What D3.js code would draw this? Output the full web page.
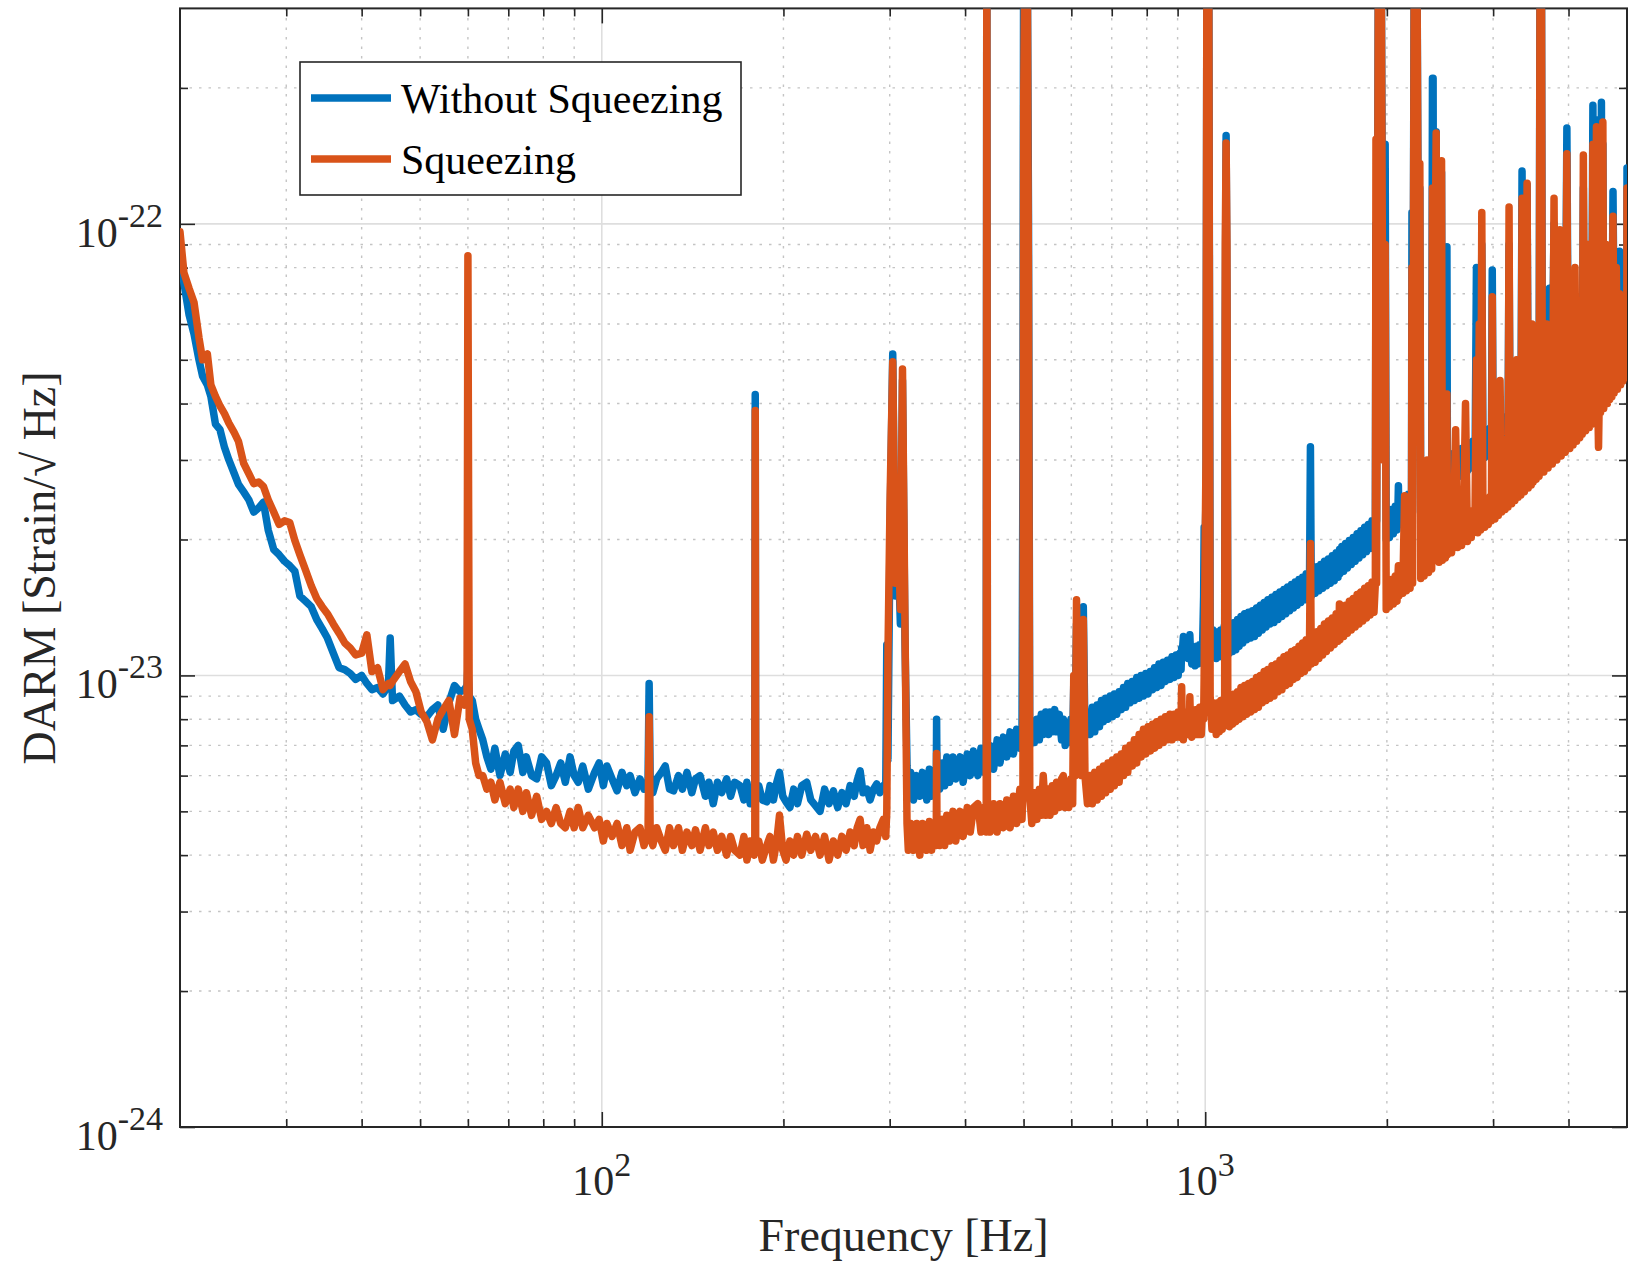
<!DOCTYPE html>
<html lang="en">
<head>
<meta charset="UTF-8">
<title>DARM spectrum</title>
<script src="https://cdn.jsdelivr.net/npm/d3@7"></script>
<style>
body { margin: 0; background: #fff; }
svg text { font-family: "Liberation Serif", "Times New Roman", serif; }
</style>
</head>
<body>
<svg id="chart" width="1641" height="1262"></svg>
<script>
// values are in units of 1e-23 strain/sqrt(Hz), 60 = line runs off the top
const UNIT = 1e-23;

const seriesNames = ["Without Squeezing", "Squeezing"];

const withoutSqueezing = [
  // 20 - 63 Hz
  [20,9.1],[20.3,7.4],[20.7,6.3],[21.1,5.7],[21.5,5.0],[21.8,4.6],[22.2,4.4],[22.5,4.15],[22.9,3.6],[23.3,3.5],
  [23.7,3.2],[24.1,3.0],[24.6,2.8],[25,2.65],[25.5,2.55],[26,2.45],[26.5,2.3],[27,2.35],[27.5,2.42],[28,2.1],
  [28.6,1.9],[29.2,1.85],[29.8,1.79],[30.4,1.75],[31,1.7],[31.6,1.5],[32.3,1.46],[33,1.42],[33.7,1.33],[34.4,1.27],
  [35.1,1.21],[35.9,1.12],[36.7,1.04],[37.5,1.03],[38.3,1.01],[39.1,0.98],[40,1.0],[40.8,0.96],[41.6,0.93],[42.5,0.94],
  [43.4,0.91],[44.3,0.95],[44.6,1.21],[45,0.88],[46.2,0.9],[47.2,0.86],[48.2,0.83],[49.2,0.84],[50.2,0.82],[51.3,0.81],
  [52.4,0.84],[53.5,0.86],[54.6,0.76],[55.8,0.87],[57,0.95],[58.2,0.92],[59.2,0.93],[59.8,0.95],[60,1.05],[60.3,0.9],
  [61,0.88],[61.8,0.8],[62.6,0.76],
  // 63 - 296 Hz
  [63.5,0.72],[64.5,0.66],[65.5,0.62],[66.5,0.69],[67.8,0.6],[69.2,0.67],[70.5,0.61],[71.5,0.68],[72.7,0.7],[74,0.61],
  [75,0.66],[76.5,0.6],[78,0.59],[79.5,0.66],[81,0.64],[82.5,0.57],[84,0.6],[85.5,0.64],[87,0.58],[88.6,0.66],
  [90,0.6],[91.4,0.58],[93,0.63],[95,0.56],[97.3,0.61],[99,0.64],[100.6,0.57],[102,0.63],[104,0.59],[106,0.555],
  [108,0.61],[110,0.57],[111.4,0.6],[113.5,0.55],[115.7,0.59],[117.5,0.56],[119.3,0.58],[119.8,0.96],[120.3,0.58],[121.5,0.55],
  [123.3,0.59],[125.5,0.61],[127.4,0.63],[129.5,0.56],[131.5,0.555],[134,0.6],[136,0.56],[138.4,0.61],[141,0.55],[143,0.59],
  [145.5,0.6],[148.5,0.54],[150.5,0.58],[153,0.52],[155.5,0.58],[158,0.55],[161,0.59],[163.5,0.54],[166,0.58],[169.5,0.57],
  [172,0.53],[174,0.58],[176.2,0.52],[178.8,0.56],[179.3,0.55],[179.6,4.19],[179.9,0.55],[182,0.57],[184.5,0.53],[187.7,0.525],
  [190,0.57],[192.5,0.53],[195,0.58],[197,0.61],[199.5,0.54],[202,0.525],[205,0.51],[208,0.56],[211,0.52],[214.5,0.57],
  [218.6,0.58],[222,0.53],[226,0.515],[230,0.5],[234,0.56],[238,0.52],[242,0.555],[246,0.51],[250,0.55],[254,0.52],
  [258,0.57],[262,0.54],[265,0.585],[268,0.615],[271,0.55],[275,0.56],[278.4,0.53],[282,0.56],[285.5,0.575],[289,0.55],
  [292.8,0.57],[295.5,0.56],
  // 296 - 1031 Hz
  [296.7,1.17],[298,0.65],[300.5,2.2],[303.5,5.15],[306.5,1.5],[309.5,2.0],[312.5,1.3],[315,4.5],[318,1.2],[320.5,0.63],
  [322.1,0.55],[325,0.61],[328.5,0.53],[332.6,0.6],[336.5,0.54],[340,0.61],[345.6,0.53],[349,0.62],[352,0.54],[355,0.61],
  [358.3,0.56],[358.8,0.8],[359.3,0.62],[363,0.56],[367,0.64],[370,0.57],[373,0.66],[377,0.58],[382,0.66],[386,0.59],
  [392.5,0.66],[397,0.58],[403.3,0.67],[408,0.6],[413,0.68],[420,0.6],[425,0.69],[430,0.61],[433.6,0.68],[434.6,60],
  [435.6,0.64],[440,0.7],[446,0.62],[452,0.72],[457,0.64],[463,0.73],[469,0.66],[475,0.75],[481,0.67],[487,0.76],
  [493,0.69],[497,0.75],[498.8,3.0],[500.3,60],[503.5,60],[506.5,60],[509.5,10.5],[512,0.7],[516,0.79],[521,0.71],
  [526,0.8],[531,0.72],[535,0.82],[539,0.74],[544,0.83],[550,0.74],[553,0.83],[558,0.75],[563,0.84],[567,0.75],
  [573,0.82],[578,0.72],[582,0.8],[586,0.7],[589.4,0.78],[594,0.71],[599,0.8],[603,0.72],[605.5,0.95],[609,0.8],
  [612,1.3],[616,0.85],[620,1.1],[624,0.82],[628,1.42],[632,0.74],[638,0.83],[644.4,0.74],[650,0.85],[656,0.75],
  [662,0.86],[668,0.77],[673,0.88],[678,0.79],[684,0.89],[690,0.8],[696,0.9],[702,0.81],[707,0.91],[713.5,0.82],
  [720,0.92],[726,0.84],[732,0.94],[738,0.85],[744,0.96],[750.6,0.87],[757,0.97],[763,0.88],[770,0.99],[777,0.89],
  [783,1.0],[790,0.9],[797,1.01],[804,0.91],[811,1.02],[818,0.93],[824,1.04],[831,0.94],[838,1.06],[845,0.95],
  [852,1.07],[859,0.97],[866,1.08],[874,0.98],[881,1.1],[888,0.99],[895,1.11],[902,1.0],[908,1.12],[912,1.03],
  [914,1.15],[916,1.12],[920,1.22],[925,1.12],[931,1.16],[937,1.09],[941,1.2],[943,1.23],[945,1.14],[950,1.06],
  [956,1.15],[962,1.05],[967,1.16],[973,1.06],[979,1.17],[985,1.07],[990,1.16],[994,1.5],[996,2.13],[1000,2.0],
  [1003,2.5],[1007,60],[1013,60],[1019,1.3],[1026,1.12],[1031,1.26],
  // 1031 - 5000 Hz
  [1037,1.24],[1043,1.09],[1049,1.25],[1055,1.1],[1061,1.26],[1067,1.11],[1073,1.27],[1077,1.3],[1079.5,6],[1083,15.7],
  [1086.5,7],[1090,1.28],[1096,1.12],[1103,1.3],[1110,1.13],[1117,1.31],[1124,1.14],[1131,1.33],[1138,1.16],[1146,1.35],
  [1154,1.18],[1162,1.37],[1171,1.2],[1180,1.38],[1189,1.21],[1198,1.39],[1207,1.22],[1216,1.41],[1225,1.24],[1234,1.43],
  [1243,1.26],[1252,1.45],[1261,1.28],[1270,1.47],[1280,1.3],[1290,1.49],[1300,1.31],[1310,1.51],[1320,1.33],[1330,1.53],
  [1340,1.35],[1350,1.55],[1360,1.37],[1370,1.57],[1380,1.39],[1390,1.59],[1400,1.41],[1410,1.61],[1420,1.43],[1430,1.63],
  [1440,1.45],[1450,1.65],[1460,1.47],[1470,1.68],[1480,1.49],[1489,1.66],[1494,3.21],[1499,1.5],[1510,1.71],[1521,1.52],
  [1532,1.74],[1543,1.54],[1554,1.76],[1565,1.56],[1576,1.79],[1588,1.58],[1600,1.81],[1612,1.6],[1624,1.84],[1636,1.62],
  [1648,1.87],[1660,1.65],[1666,1.85],[1669,1.9],[1672,1.68],[1684,1.93],[1696,1.7],[1708,1.96],[1720,1.73],[1733,1.99],
  [1746,1.76],[1759,2.02],[1772,1.79],[1785,2.06],[1798,1.82],[1811,2.09],[1824,1.85],[1837,2.13],[1850,1.88],[1863,2.16],
  [1876,1.91],[1890,2.2],[1904,1.94],[1914,2.15],[1918.5,10],[1923,2.2],[1938,60],[1955,60],[1972,4],[1987,15],
  [1995,2.0],[2005,2.3],[2020,2.02],[2035,2.33],[2050,2.06],[2065,2.37],[2079,2.1],[2087,2.4],[2090,2.63],[2094,2.15],
  [2110,2.44],[2125,2.17],[2140,2.48],[2155,2.2],[2170,2.52],[2185,2.24],[2197,2.5],[2201,10.6],[2206,2.3],[2222,60],
  [2240,60],[2258,6],[2268,12],[2276,2.38],[2290,2.7],[2305,2.4],[2320,2.74],[2332,2.44],[2345,2.78],[2360,2.48],
  [2373,2.8],[2380,21],[2386,21],[2392,3],[2404,8],[2414,16],[2422,3],[2440,2.55],[2455,2.95],[2464,13],
  [2472,2.6],[2490,2.98],[2500,2.62],[2510,3],[2515,8.9],[2520,2.65],[2540,3.05],[2560,2.68],[2580,3.1],[2600,2.72],
  [2620,3.14],[2640,2.76],[2660,3.18],[2680,2.8],[2700,3.22],[2720,2.84],[2740,3.27],[2760,2.88],[2780,3.31],[2800,2.92],
  [2815,8],[2830,3.3],[2845,8],[2860,3.0],[2873,9],[2885,3.42],[2905,3.04],[2925,3.48],[2945,3.08],[2965,3.53],
  [2980,3.12],[2990,7.9],[3000,3.55],[3020,3.16],[3040,3.6],[3060,3.2],[3080,3.65],[3100,3.24],[3120,3.7],[3140,3.28],
  [3160,3.75],[3175,3.32],[3188,9],[3200,3.8],[3220,3.38],[3240,3.86],[3260,3.42],[3280,3.91],[3300,3.46],[3320,3.96],
  [3335,3.5],[3350,13.1],[3365,4.0],[3380,3.55],[3400,4.05],[3415,12.2],[3430,3.6],[3450,4.12],[3470,3.66],[3480,4.1],
  [3495,3.7],[3515,4.22],[3535,3.74],[3555,4.27],[3575,3.8],[3590,60],[3605,60],[3620,4.35],[3640,3.86],[3660,4.42],
  [3680,3.92],[3700,4.48],[3720,7.2],[3740,3.98],[3760,4.55],[3785,10],[3805,4.05],[3825,4.62],[3845,4.1],[3870,9.3],
  [3890,4.7],[3910,4.16],[3930,4.76],[3950,4.22],[3975,16.3],[3995,4.83],[4020,4.28],[4045,4.9],[4070,4.35],[4100,4.96],
  [4125,4.42],[4150,5.03],[4175,4.48],[4200,5.1],[4215,4.52],[4233,12],[4250,5.16],[4270,4.58],[4290,5.22],[4310,4.64],
  [4330,5.28],[4350,4.7],[4370,5.34],[4390,18.3],[4410,4.78],[4430,5.42],[4450,17],[4470,4.85],[4485,5.48],[4500,4.9],
  [4520,5.55],[4535,18.6],[4548,4.97],[4560,15],[4575,5.62],[4600,5.02],[4620,5.68],[4640,5.08],[4660,5.74],[4680,5.14],
  [4700,5.8],[4720,5.2],[4740,11.8],[4760,5.86],[4780,5.26],[4800,5.92],[4820,5.32],[4840,5.98],[4860,8.7],[4880,5.4],
  [4900,6.05],[4920,5.46],[4940,6.1],[4960,5.52],[4980,6.15],[4995,5.6],[5000,13.3]
];

const squeezing = [
  // 20 - 63 Hz
  [20,9.6],[20.3,7.8],[20.7,7.2],[21.1,6.7],[21.5,5.6],[21.8,5.0],[22.2,5.15],[22.5,4.4],[22.9,4.15],[23.3,3.95],
  [23.7,3.8],[24.1,3.62],[24.6,3.45],[25,3.3],[25.5,2.95],[26,2.8],[26.5,2.66],[27,2.68],[27.5,2.62],[28,2.45],
  [28.6,2.3],[29.2,2.16],[29.8,2.2],[30.4,2.18],[31,1.99],[31.6,1.85],[32.3,1.71],[33,1.58],[33.7,1.48],[34.4,1.42],
  [35.1,1.37],[35.9,1.3],[36.7,1.24],[37.5,1.18],[38.3,1.15],[39.1,1.11],[40,1.12],[40.8,1.23],[41.6,1.02],[42.5,1.04],
  [43.4,0.93],[44.3,0.96],[44.6,0.95],[45,0.97],[46.2,1.02],[47.2,1.06],[48.2,0.97],[49.2,0.92],[50.2,0.83],[51.3,0.79],
  [52.4,0.72],[53.5,0.8],[54.6,0.84],[55.8,0.88],[57,0.74],[58.2,0.89],[59.2,0.86],[59.8,0.9],[60,8.5],[60.3,0.8],
  [61,0.76],[61.8,0.64],[62.6,0.6],
  // 63 - 296 Hz
  [63.5,0.6],[64.5,0.56],[65.5,0.58],[66.5,0.53],[67.8,0.58],[69.2,0.52],[70.5,0.56],[71.5,0.51],[72.7,0.56],[74,0.5],
  [75,0.55],[76.5,0.49],[78,0.54],[79.5,0.48],[81,0.5],[82.5,0.47],[84,0.51],[85.5,0.47],[87,0.46],[88.6,0.5],
  [90,0.46],[91.4,0.51],[93,0.46],[95,0.49],[97.3,0.46],[99,0.48],[100.6,0.43],[102,0.47],[104,0.44],[106,0.47],
  [108,0.42],[110,0.46],[111.4,0.41],[113.5,0.45],[115.7,0.46],[117.5,0.42],[119.3,0.45],[119.8,0.81],[120.3,0.44],[121.5,0.42],
  [123.3,0.46],[125.5,0.43],[127.4,0.41],[129.5,0.46],[131.5,0.42],[134,0.46],[136,0.41],[138.4,0.45],[141,0.42],[143,0.455],
  [145.5,0.41],[148.5,0.46],[150.5,0.42],[153,0.45],[155.5,0.41],[158,0.44],[161,0.4],[163.5,0.44],[166,0.41],[169.5,0.4],
  [172,0.44],[174,0.39],[176.2,0.43],[178.8,0.4],[179.3,0.42],[179.6,3.86],[179.9,0.41],[182,0.43],[184.5,0.39],[187.7,0.42],
  [190,0.44],[192.5,0.39],[195,0.43],[197,0.49],[199.5,0.41],[202,0.39],[205,0.43],[208,0.4],[211,0.44],[214.5,0.4],
  [218.6,0.445],[222,0.41],[226,0.44],[230,0.4],[234,0.44],[238,0.39],[242,0.43],[246,0.4],[250,0.44],[254,0.41],
  [258,0.45],[262,0.42],[265,0.46],[268,0.48],[271,0.42],[275,0.46],[278.4,0.41],[282,0.45],[285.5,0.43],[289,0.46],
  [292.8,0.48],[295.5,0.44],
  // 296 - 1031 Hz
  [296.7,0.5],[298,1.1],[300.5,2.5],[303.5,4.95],[306.5,1.6],[309.5,2.2],[312.5,1.4],[315,4.77],[318,1.3],[320.5,0.47],
  [322.1,0.41],[325,0.47],[328.5,0.41],[332.6,0.47],[336.5,0.4],[340,0.47],[345.6,0.41],[349,0.475],[352,0.41],[355,0.47],
  [358.3,0.42],[358.8,0.672],[359.3,0.47],[363,0.42],[367,0.48],[370,0.42],[373,0.49],[377,0.43],[382,0.5],[386,0.43],
  [392.5,0.5],[397,0.44],[403.3,0.51],[408,0.45],[413,0.51],[420,0.52],[425,0.45],[430,0.51],[433.6,0.45],[434.6,60],
  [435.6,0.51],[440,0.45],[446,0.52],[452,0.45],[457,0.52],[463,0.46],[469,0.53],[475,0.46],[481,0.54],[487,0.47],
  [493,0.56],[497,0.48],[498.8,0.55],[500.3,19],[503.5,60],[506.5,60],[509.5,6.8],[512,0.54],[516,0.47],[521,0.55],
  [526,0.48],[531,0.56],[535,0.49],[539,0.6],[544,0.49],[550,0.56],[553,0.49],[558,0.57],[563,0.5],[567,0.58],
  [573,0.51],[578,0.59],[582,0.6],[586,0.51],[589.4,0.58],[594,0.51],[599,0.59],[603,0.52],[605.5,1.0],[609,0.6],
  [612,1.47],[616,0.7],[620,1.2],[624,0.6],[628,1.33],[632,0.6],[638,0.52],[644.4,0.6],[650,0.52],[656,0.61],
  [662,0.53],[668,0.62],[673,0.54],[678,0.63],[684,0.55],[690,0.64],[696,0.56],[702,0.65],[707,0.57],[713.5,0.66],
  [720,0.58],[726,0.67],[732,0.6],[738,0.69],[744,0.61],[750.6,0.7],[757,0.63],[763,0.72],[770,0.64],[777,0.74],
  [783,0.66],[790,0.76],[797,0.67],[804,0.77],[811,0.68],[818,0.78],[824,0.69],[831,0.79],[838,0.7],[845,0.8],
  [852,0.71],[859,0.81],[866,0.72],[874,0.82],[881,0.72],[888,0.82],[895,0.73],[902,0.83],[908,0.73],[912,0.81],
  [914,0.944],[916,0.8],[920,0.72],[925,0.83],[931,0.74],[937,0.83],[941,0.74],[943,0.897],[945,0.8],[950,0.73],
  [956,0.84],[962,0.74],[967,0.84],[973,0.74],[979,0.85],[985,0.74],[990,0.84],[994,0.8],[996,1.0],[1000,2.0],
  [1003,3.0],[1007,60],[1013,60],[1019,0.9],[1026,0.76],[1031,0.87],
  // 1031 - 5000 Hz
  [1037,0.86],[1043,0.74],[1049,0.87],[1055,0.75],[1061,0.88],[1067,0.76],[1073,0.88],[1077,0.9],[1079.5,9],[1083,15.1],
  [1086.5,9],[1090,0.89],[1096,0.77],[1103,0.9],[1110,0.78],[1117,0.91],[1124,0.79],[1131,0.92],[1138,0.8],[1146,0.94],
  [1154,0.81],[1162,0.95],[1171,0.82],[1180,0.96],[1189,0.83],[1198,0.97],[1207,0.84],[1216,0.99],[1225,0.85],[1234,1.0],
  [1243,0.87],[1252,1.02],[1261,0.88],[1270,1.03],[1280,0.89],[1290,1.05],[1300,0.9],[1310,1.06],[1320,0.92],[1330,1.08],
  [1340,0.93],[1350,1.1],[1360,0.95],[1370,1.11],[1380,0.96],[1390,1.13],[1400,0.98],[1410,1.14],[1420,0.99],[1430,1.16],
  [1440,1.01],[1450,1.18],[1460,1.02],[1470,1.2],[1480,1.04],[1489,1.2],[1494,1.96],[1499,1.06],[1510,1.23],[1521,1.07],
  [1532,1.25],[1543,1.09],[1554,1.27],[1565,1.11],[1576,1.3],[1588,1.13],[1600,1.32],[1612,1.15],[1624,1.34],[1636,1.17],
  [1648,1.37],[1660,1.19],[1666,1.3],[1669,1.44],[1672,1.2],[1684,1.41],[1696,1.22],[1708,1.43],[1720,1.24],[1733,1.46],
  [1746,1.26],[1759,1.48],[1772,1.28],[1785,1.51],[1798,1.3],[1811,1.53],[1824,1.32],[1837,1.56],[1850,1.34],[1863,1.58],
  [1876,1.36],[1890,1.61],[1904,1.38],[1914,1.6],[1918.5,15.4],[1923,1.6],[1938,60],[1955,60],[1972,3],[1987,9],
  [1995,1.4],[2005,1.6],[2020,1.42],[2035,1.63],[2050,1.44],[2065,1.66],[2079,1.46],[2087,1.68],[2090,1.75],[2094,1.5],
  [2110,1.72],[2125,1.52],[2140,2.5],[2155,1.54],[2170,1.78],[2185,1.56],[2197,1.8],[2201,8],[2206,1.6],[2222,60],
  [2240,60],[2258,5],[2268,13.6],[2276,1.64],[2290,1.88],[2305,1.66],[2320,1.91],[2332,3.0],[2345,1.69],[2360,1.95],
  [2373,1.72],[2380,12],[2386,12],[2392,2],[2404,8],[2414,15.9],[2422,2.2],[2440,1.78],[2455,2.5],[2464,13.8],
  [2472,1.8],[2490,4.0],[2500,1.82],[2510,2.5],[2515,4.2],[2520,1.85],[2540,2.12],[2560,1.87],[2580,2.15],[2600,3.5],
  [2620,1.92],[2640,2.2],[2660,1.94],[2680,2.24],[2700,4.0],[2720,1.98],[2740,2.28],[2760,2.02],[2780,2.32],[2800,2.3],
  [2815,5],[2830,2.07],[2845,6],[2860,2.1],[2873,10.6],[2885,2.4],[2905,2.13],[2925,2.45],[2945,2.16],[2965,2.49],
  [2980,2.2],[2990,6.9],[3000,2.5],[3020,2.22],[3040,2.55],[3060,2.26],[3080,4.5],[3100,2.3],[3120,2.62],[3140,2.33],
  [3160,2.67],[3175,2.36],[3188,10.9],[3200,2.7],[3220,2.4],[3240,2.76],[3260,2.44],[3280,5],[3300,2.48],[3320,2.84],
  [3335,2.51],[3350,11.4],[3365,2.88],[3380,2.55],[3400,2.92],[3415,12.3],[3430,2.6],[3450,2.98],[3470,2.64],[3480,6],
  [3495,2.68],[3515,3.07],[3535,2.72],[3555,3.12],[3575,2.76],[3590,60],[3605,60],[3620,3.18],[3640,2.82],[3660,3.24],
  [3680,6],[3700,2.88],[3720,5],[3740,3.32],[3760,2.94],[3785,11.4],[3805,3.38],[3825,3.0],[3845,3.45],[3870,9.7],
  [3890,3.06],[3910,7],[3930,3.52],[3950,3.12],[3975,14.3],[3995,3.58],[4020,3.18],[4045,3.65],[4070,3.24],[4100,8],
  [4125,3.3],[4150,3.8],[4175,3.36],[4200,3.86],[4215,3.42],[4233,14.2],[4250,3.92],[4270,3.48],[4290,3.98],[4310,9],
  [4330,3.54],[4350,4.06],[4370,3.6],[4390,15],[4410,4.14],[4430,3.68],[4450,16.4],[4470,4.22],[4485,3.2],[4500,4.28],
  [4520,3.82],[4535,15],[4548,4.38],[4560,16.8],[4575,3.9],[4600,4.46],[4620,9],[4640,4.0],[4660,4.58],[4680,4.08],
  [4700,4.66],[4720,4.14],[4740,10.4],[4760,4.22],[4780,4.8],[4800,8],[4820,4.3],[4840,4.92],[4860,7],[4880,4.4],
  [4900,5.02],[4920,4.48],[4940,5.12],[4960,4.56],[4980,5.2],[4995,4.65],[5000,12]
];

// axis ticks
const xMajorTicks = [100, 1000];
const xMinorTicks = [30, 40, 50, 60, 70, 80, 90, 200, 300, 400, 500, 600, 700, 800, 900, 2000, 3000, 4000];
const yMajorTicks = [1e-24, 1e-23, 1e-22];
const yMinorTicks = [2e-24, 3e-24, 4e-24, 5e-24, 6e-24, 7e-24, 8e-24, 9e-24,
                     2e-23, 3e-23, 4e-23, 5e-23, 6e-23, 7e-23, 8e-23, 9e-23, 2e-22];
const xTickLabels = ["2", "3"];
const yTickLabels = ["-24", "-23", "-22"];

const colors = ["#0072BD", "#D95319"];
const AXIS_COLOR = "#262626";

const svg = d3.select("#chart");
const plot = { left: 180, top: 8.4, right: 1627, bottom: 1127 };

svg.append("rect").attr("width", 1641).attr("height", 1262).attr("fill", "#fff");

const x = d3.scaleLog().domain([20, 5000]).range([plot.left, plot.right]);
const y = d3.scaleLog().domain([1e-24, 3e-22]).range([plot.bottom, plot.top]);

// grid
const grid = svg.append("g");
grid.selectAll(".gxm").data(xMinorTicks).join("line")
  .attr("x1", d => x(d)).attr("x2", d => x(d))
  .attr("y1", plot.top).attr("y2", plot.bottom)
  .attr("stroke", "#c4c4c4").attr("stroke-width", 1.4).attr("stroke-dasharray", "2.5,7");
grid.selectAll(".gym").data(yMinorTicks).join("line")
  .attr("y1", d => y(d)).attr("y2", d => y(d))
  .attr("x1", plot.left).attr("x2", plot.right)
  .attr("stroke", "#c4c4c4").attr("stroke-width", 1.4).attr("stroke-dasharray", "2.5,7");
grid.selectAll(".gxM").data(xMajorTicks).join("line")
  .attr("x1", d => x(d)).attr("x2", d => x(d))
  .attr("y1", plot.top).attr("y2", plot.bottom)
  .attr("stroke", "#dedede").attr("stroke-width", 1.6);
grid.selectAll(".gyM").data(yMajorTicks).join("line")
  .attr("y1", d => y(d)).attr("y2", d => y(d))
  .attr("x1", plot.left).attr("x2", plot.right)
  .attr("stroke", "#dedede").attr("stroke-width", 1.6);

// ticks on all four sides, pointing inwards
function ticks(axisFn, scale, values, size, transform) {
  const g = svg.append("g").attr("transform", transform).attr("color", AXIS_COLOR)
    .call(axisFn(scale).tickValues(values).tickSize(-size).tickFormat(""));
  g.select(".domain").remove();
  g.selectAll("line").attr("stroke-width", 1.6);
}
ticks(d3.axisBottom, x, xMajorTicks, 15, `translate(0,${plot.bottom})`);
ticks(d3.axisBottom, x, xMinorTicks, 8, `translate(0,${plot.bottom})`);
ticks(d3.axisTop, x, xMajorTicks, 15, `translate(0,${plot.top})`);
ticks(d3.axisTop, x, xMinorTicks, 8, `translate(0,${plot.top})`);
ticks(d3.axisLeft, y, yMajorTicks, 15, `translate(${plot.left},0)`);
ticks(d3.axisLeft, y, yMinorTicks, 8, `translate(${plot.left},0)`);
ticks(d3.axisRight, y, yMajorTicks, 15, `translate(${plot.right},0)`);
ticks(d3.axisRight, y, yMinorTicks, 8, `translate(${plot.right},0)`);

svg.append("rect")
  .attr("x", plot.left).attr("y", plot.top)
  .attr("width", plot.right - plot.left).attr("height", plot.bottom - plot.top)
  .attr("fill", "none").attr("stroke", AXIS_COLOR).attr("stroke-width", 2);

// data
svg.append("clipPath").attr("id", "clip").append("rect")
  .attr("x", plot.left).attr("y", plot.top)
  .attr("width", plot.right - plot.left).attr("height", plot.bottom - plot.top);

const line = d3.line().x(d => x(d[0])).y(d => y(d[1] * UNIT));
const lines = svg.append("g").attr("clip-path", "url(#clip)");
[withoutSqueezing, squeezing].forEach((s, i) => {
  lines.append("path").datum(s)
    .attr("d", line)
    .attr("fill", "none")
    .attr("stroke", colors[i])
    .attr("stroke-width", 7.5)
    .attr("stroke-linejoin", "round")
    .attr("stroke-linecap", "round");
});

// tick labels
const xl = svg.append("g").selectAll("text").data(xMajorTicks).join("text")
  .attr("x", d => x(d)).attr("y", 1195)
  .attr("text-anchor", "middle").attr("font-size", 42).attr("fill", AXIS_COLOR);
xl.append("tspan").text("10");
xl.append("tspan").attr("font-size", 34).attr("dy", -19).text((d, i) => xTickLabels[i]);

const yl = svg.append("g").selectAll("text").data(yMajorTicks).join("text")
  .attr("x", 163).attr("y", d => y(d) + 23)
  .attr("text-anchor", "end").attr("font-size", 42).attr("fill", AXIS_COLOR);
yl.append("tspan").text("10");
yl.append("tspan").attr("font-size", 34).attr("dy", -20).text((d, i) => yTickLabels[i]);

// axis titles
svg.append("text")
  .attr("x", (plot.left + plot.right) / 2).attr("y", 1251)
  .attr("text-anchor", "middle").attr("font-size", 46).attr("fill", AXIS_COLOR)
  .text("Frequency [Hz]");
svg.append("text")
  .attr("transform", "translate(55,568) rotate(-90)")
  .attr("text-anchor", "middle").attr("font-size", 46).attr("fill", AXIS_COLOR)
  .text("DARM [Strain/\u221A Hz]");

// legend
const legend = svg.append("g");
legend.append("rect")
  .attr("x", 300).attr("y", 62).attr("width", 441).attr("height", 133)
  .attr("fill", "#fff").attr("stroke", AXIS_COLOR).attr("stroke-width", 1.6);
seriesNames.forEach((name, i) => {
  const cy = 98 + i * 61;
  legend.append("line")
    .attr("x1", 311).attr("x2", 391).attr("y1", cy).attr("y2", cy)
    .attr("stroke", colors[i]).attr("stroke-width", 7.5);
  legend.append("text")
    .attr("x", 401).attr("y", cy + 15)
    .attr("font-size", 42).attr("fill", "#000")
    .text(name);
});
</script>
</body>
</html>
